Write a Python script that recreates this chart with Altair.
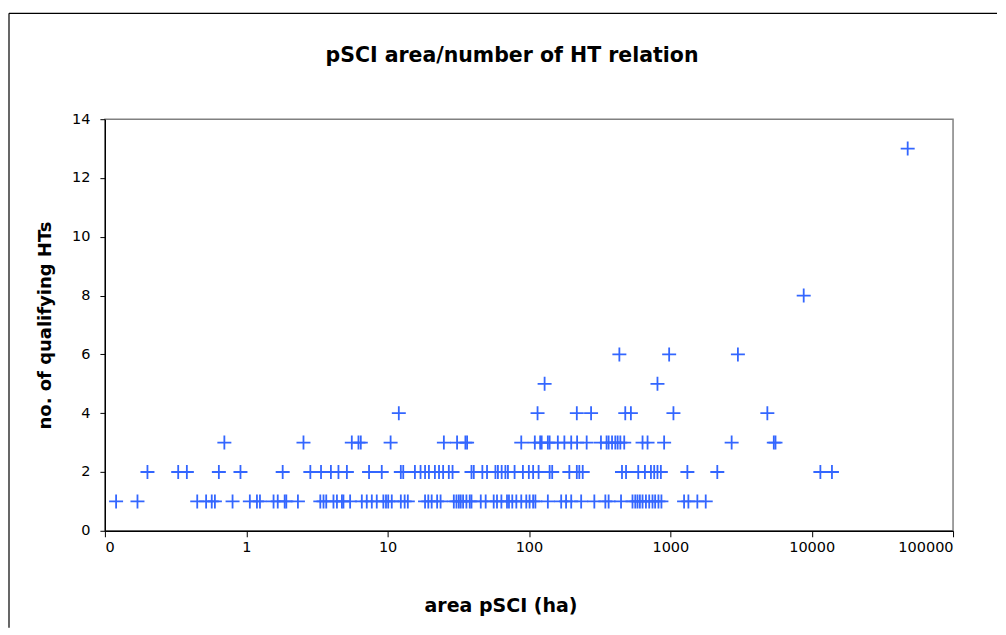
import altair as alt
import pandas as pd

# Areas (ha) of pSCIs, grouped by number of qualifying habitat types
area_1 = [0.12, 0.17, 0.45, 0.52, 0.57, 0.6, 0.8, 1.06, 1.19, 1.25, 1.56, 1.67, 1.87, 1.92,
          2.32, 3.34, 3.52, 3.68, 4.14, 4.38, 4.75, 4.87, 5.43, 6.57, 7.12, 7.73, 8.38, 9.33,
          9.74, 10.1, 10.7, 12.4, 13.2, 13.9, 18.4, 19.4, 20.5, 22.4, 23.7, 29.4, 30.7, 31.9,
          32.9, 34.2, 36.1, 38.1, 39.2, 45.6, 49.4, 56.3, 59.4, 63.8, 69.9, 72.2, 76.2, 81.4,
          88.2, 95.7, 101, 107, 111, 136, 169, 183, 199, 234, 290, 347, 366, 448, 540, 565,
          586, 609, 636, 672, 709, 748, 781, 824, 865, 1251, 1342, 1553, 1780]
area_2 = [0.2, 0.33, 0.38, 0.64, 0.91, 1.81, 2.84, 3.38, 3.97, 4.49, 5.15, 7.39, 9.09, 12.4,
          12.9, 15.6, 17.1, 18.4, 19.6, 21.6, 23.1, 24.7, 27.1, 28.8, 39.2, 40.7, 46.8, 50.5,
          57.9, 60.3, 64.1, 68.1, 71.0, 79.1, 90.6, 99.8, 107, 117, 140, 146, 193, 218, 227,
          240, 455, 486, 593, 661, 729, 769, 811, 857, 1320, 2149, 11520, 13910]
area_3 = [0.7, 2.54, 5.58, 6.22, 6.46, 10.5, 25.0, 31.0, 35.5, 36.5, 88.2, 110, 120, 123,
          136, 140, 160, 178, 199, 219, 256, 323, 354, 366, 387, 408, 424, 443, 472, 636, 690,
          904, 2715, 5395, 5546]
area_4 = [12.0, 115, 218, 275, 480, 526, 1052, 4857]
area_5 = [129, 811]
area_6 = [436, 981, 3006]
area_8 = [8781]
area_13 = [47770]

chart_title = "pSCI area/number of HT relation"

groups = {1: area_1, 2: area_2, 3: area_3, 4: area_4, 5: area_5, 6: area_6, 8: area_8, 13: area_13}
rows = [{"area": a, "hts": k} for k, vals in groups.items() for a in vals]
df = pd.DataFrame(rows)

x_ticks = [0.1, 1, 10, 100, 1000, 10000, 100000]
y_ticks = [0, 2, 4, 6, 8, 10, 12, 14]

W, H = 849, 412
FONT = "DejaVu Sans"
BLUE = "#3366FF"

points = alt.Chart(df).mark_point(
    shape="M-1,0L1,0M0,-1L0,1",
    filled=False,
    size=196,
    stroke=BLUE,
    strokeWidth=1.8,
    opacity=1,
).encode(
    x=alt.X("area:Q",
            scale=alt.Scale(type="log", domain=[0.1, 100000], nice=False),
            axis=alt.Axis(values=x_ticks, title="area pSCI (ha)",
                          labelExpr="datum.value < 1 ? '0' : format(datum.value, 'd')",
                          tickSize=6, labelPadding=4,
                          titleX=396, titleY=75, titleAlign="center",
                          titleBaseline="middle", titleFontSize=19)),
    y=alt.Y("hts:Q",
            scale=alt.Scale(domain=[0, 14], nice=False),
            axis=alt.Axis(values=y_ticks, title="no. of qualifying HTs",
                          tickSize=5, labelPadding=10, titlePadding=17)),
)

one = pd.DataFrame({"t": [chart_title]})

frame_top = alt.Chart(one).mark_rule(color="black", strokeWidth=1.2).encode(
    x=alt.value(-96), x2=alt.value(W + 44), y=alt.value(-106),
)
frame_left = alt.Chart(one).mark_rule(color="black", strokeWidth=1.2).encode(
    x=alt.value(-96), y=alt.value(-106), y2=alt.value(H + 97),
)

title = alt.Chart(one).mark_text(
    font=FONT, fontSize=20.5, fontWeight="bold", color="black",
    align="center", baseline="middle",
).encode(
    text="t:N", x=alt.value(W / 2 - 17), y=alt.value(-63),
)

chart = alt.layer(frame_top, frame_left, title, points).properties(
    width=W, height=H,
    padding={"left": 0, "top": 4, "right": 0, "bottom": 0},
).configure_view(
    stroke="#808080", strokeWidth=1.5
).configure_axis(
    grid=False, domainColor="black", tickColor="black", domainWidth=1.2,
    labelFont=FONT, labelFontSize=14.5, labelColor="black",
    titleFont=FONT, titleFontSize=18, titleFontWeight="bold", titleColor="black",
)

chart.save("out.html", embed_options={"renderer": "svg", "actions": False})
